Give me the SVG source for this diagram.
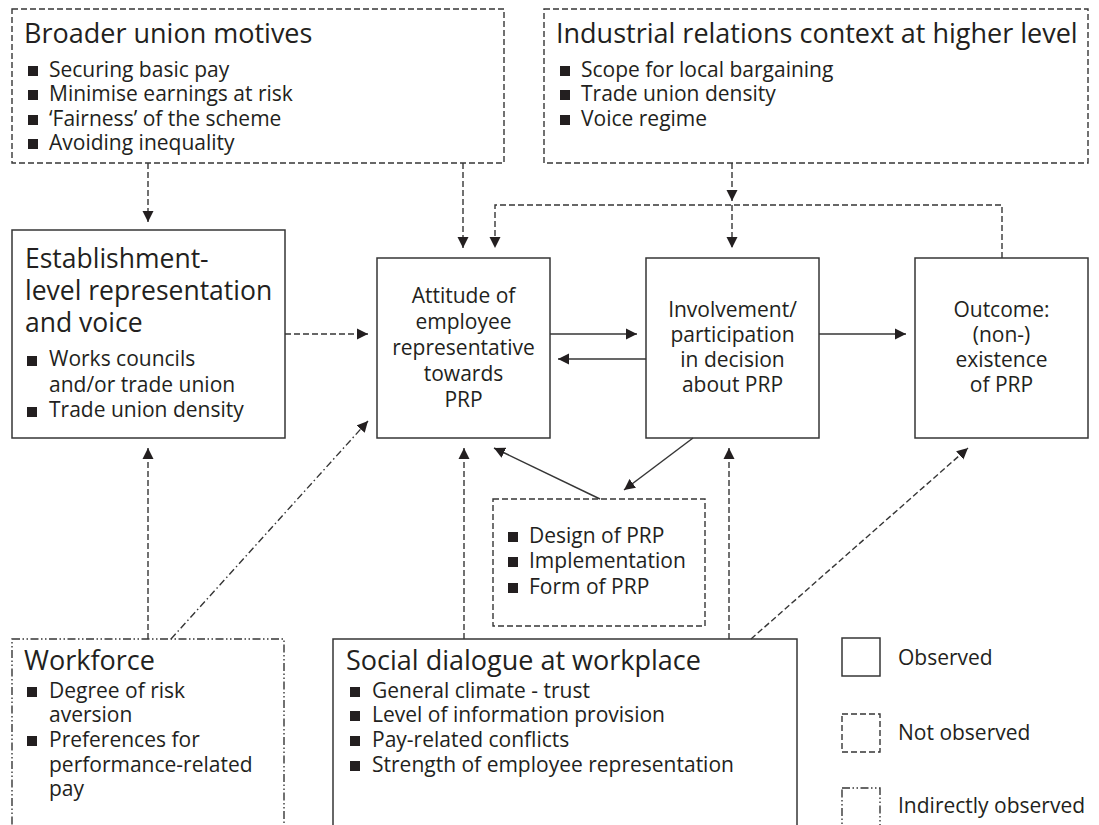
<svg xmlns="http://www.w3.org/2000/svg" width="1099" height="825" viewBox="0 0 1099 825">
<defs>
<style>
.t{font-family:"Open Sans","Noto Sans",sans-serif;fill:#231f20;}
.ti{font-size:27px;}
.te{font-size:26.5px;}
.b{font-size:21px;}
.c{font-size:21px;text-anchor:middle;}
.solid{fill:none;stroke:#363636;stroke-width:1.5;}
.dash{fill:none;stroke:#363636;stroke-width:1.4;stroke-dasharray:6 3;}
.dd{fill:none;stroke:#363636;stroke-width:1.4;stroke-dasharray:8 2.5 1.5 2.5 1.5 2.5;}
.ddl{fill:none;stroke:#363636;stroke-width:1.4;stroke-dasharray:7 3 1.5 3;}
.sq{fill:#231f20;}
</style>
<marker id="ah" viewBox="0 0 11 12" refX="11" refY="6" markerWidth="11" markerHeight="12" markerUnits="userSpaceOnUse" orient="auto">
<path d="M0,0.5 L11,6 L0,11.5 Z" fill="#231f20"/>
</marker>
</defs>
<rect width="1099" height="825" fill="#ffffff"/>

<g id="connectors">
<line class="dash" x1="148" y1="163" x2="148" y2="222" marker-end="url(#ah)"/>
<line class="dash" x1="463" y1="163" x2="463" y2="248" marker-end="url(#ah)"/>
<line class="dash" x1="732" y1="163" x2="732" y2="201" marker-end="url(#ah)"/>
<polyline class="dash" points="1002,258 1002,205 495,205 495,248" marker-end="url(#ah)"/>
<line class="dash" x1="732" y1="205" x2="732" y2="248" marker-end="url(#ah)"/>
<line class="dash" x1="285" y1="334" x2="368" y2="334" marker-end="url(#ah)"/>
<line class="solid" x1="550" y1="334" x2="637" y2="334" marker-end="url(#ah)"/>
<line class="solid" x1="646" y1="359" x2="558" y2="359" marker-end="url(#ah)"/>
<line class="solid" x1="819" y1="334" x2="906" y2="334" marker-end="url(#ah)"/>
<line class="solid" x1="693" y1="438" x2="624" y2="490" marker-end="url(#ah)"/>
<line class="solid" x1="600" y1="499" x2="494" y2="448" marker-end="url(#ah)"/>
<line class="dash" x1="148" y1="639" x2="148" y2="448" marker-end="url(#ah)"/>
<line class="ddl" x1="171" y1="639" x2="368" y2="421" marker-end="url(#ah)"/>
<line class="dash" x1="464" y1="639" x2="464" y2="448" marker-end="url(#ah)"/>
<line class="dash" x1="729" y1="639" x2="729" y2="448" marker-end="url(#ah)"/>
<line class="dash" x1="751" y1="639" x2="968" y2="448" marker-end="url(#ah)"/>
</g>

<g id="broader-union-motives">
<rect class="dash" x="12" y="9" width="492" height="154"/>
<text class="t ti" x="24" y="43">Broader union motives</text>
<rect class="sq" x="28" y="66" width="10" height="10"/>
<text class="t b" x="49" y="77">Securing basic pay</text>
<rect class="sq" x="28" y="90" width="10" height="10"/>
<text class="t b" x="49" y="101">Minimise earnings at risk</text>
<rect class="sq" x="28" y="115" width="10" height="10"/>
<text class="t b" x="49" y="126">‘Fairness’ of the scheme</text>
<rect class="sq" x="28" y="139" width="10" height="10"/>
<text class="t b" x="49" y="150">Avoiding inequality</text>
</g>

<g id="industrial-relations-context">
<rect class="dash" x="544" y="9" width="544" height="154"/>
<text class="t ti" x="556" y="43">Industrial relations context at higher level</text>
<rect class="sq" x="560" y="66" width="10" height="10"/>
<text class="t b" x="581" y="77">Scope for local bargaining</text>
<rect class="sq" x="560" y="90" width="10" height="10"/>
<text class="t b" x="581" y="101">Trade union density</text>
<rect class="sq" x="560" y="115" width="10" height="10"/>
<text class="t b" x="581" y="126">Voice regime</text>
</g>

<g id="establishment-level">
<rect class="solid" x="12" y="230" width="273" height="208"/>
<text class="t te" x="25" y="268">Establishment-</text>
<text class="t te" x="25" y="300">level representation</text>
<text class="t te" x="25" y="332">and voice</text>
<rect class="sq" x="27" y="356" width="10" height="10"/>
<text class="t b" x="49" y="366">Works councils</text>
<text class="t b" x="49" y="392">and/or trade union</text>
<rect class="sq" x="27" y="407" width="10" height="10"/>
<text class="t b" x="49" y="417">Trade union density</text>
</g>

<g id="attitude">
<rect class="solid" x="377" y="258" width="173" height="180"/>
<text class="t c" x="463.5" y="303">Attitude of</text>
<text class="t c" x="463.5" y="329">employee</text>
<text class="t c" x="463.5" y="355">representative</text>
<text class="t c" x="463.5" y="381">towards</text>
<text class="t c" x="463.5" y="407">PRP</text>
</g>

<g id="involvement">
<rect class="solid" x="646" y="258" width="173" height="180"/>
<text class="t c" x="732.5" y="317">Involvement/</text>
<text class="t c" x="732.5" y="342">participation</text>
<text class="t c" x="732.5" y="367">in decision</text>
<text class="t c" x="732.5" y="392">about PRP</text>
</g>

<g id="outcome">
<rect class="solid" x="915" y="258" width="173" height="180"/>
<text class="t c" x="1001.5" y="317">Outcome:</text>
<text class="t c" x="1001.5" y="342">(non-)</text>
<text class="t c" x="1001.5" y="367">existence</text>
<text class="t c" x="1001.5" y="392">of PRP</text>
</g>

<g id="design">
<rect class="dash" x="493" y="499" width="212" height="127"/>
<rect class="sq" x="508" y="532" width="10" height="10"/>
<text class="t b" x="529" y="543">Design of PRP</text>
<rect class="sq" x="508" y="557" width="10" height="10"/>
<text class="t b" x="529" y="568">Implementation</text>
<rect class="sq" x="508" y="583" width="10" height="10"/>
<text class="t b" x="529" y="594">Form of PRP</text>
</g>

<g id="workforce">
<rect class="dd" x="12" y="639" width="272" height="200"/>
<text class="t ti" x="24" y="670">Workforce</text>
<rect class="sq" x="27" y="687" width="10" height="10"/>
<text class="t b" x="49" y="698">Degree of risk</text>
<text class="t b" x="49" y="722">aversion</text>
<rect class="sq" x="27" y="736" width="10" height="10"/>
<text class="t b" x="49" y="747">Preferences for</text>
<text class="t b" x="49" y="772">performance-related</text>
<text class="t b" x="49" y="796">pay</text>
</g>

<g id="social-dialogue">
<rect class="solid" x="333" y="639" width="464" height="200"/>
<text class="t ti" x="346" y="670">Social dialogue at workplace</text>
<rect class="sq" x="350" y="687" width="10" height="10"/>
<text class="t b" x="372" y="698">General climate - trust</text>
<rect class="sq" x="350" y="711" width="10" height="10"/>
<text class="t b" x="372" y="722">Level of information provision</text>
<rect class="sq" x="350" y="736" width="10" height="10"/>
<text class="t b" x="372" y="747">Pay-related conflicts</text>
<rect class="sq" x="350" y="761" width="10" height="10"/>
<text class="t b" x="372" y="772">Strength of employee representation</text>
</g>

<g id="legend">
<rect class="solid" x="842" y="638" width="38" height="38"/>
<text class="t b" x="898" y="665">Observed</text>
<rect class="dash" x="842" y="714" width="38" height="38"/>
<text class="t b" x="898" y="740">Not observed</text>
<rect class="dd" x="842" y="788" width="38" height="50"/>
<text class="t b" x="898" y="813">Indirectly observed</text>
</g>
</svg>
